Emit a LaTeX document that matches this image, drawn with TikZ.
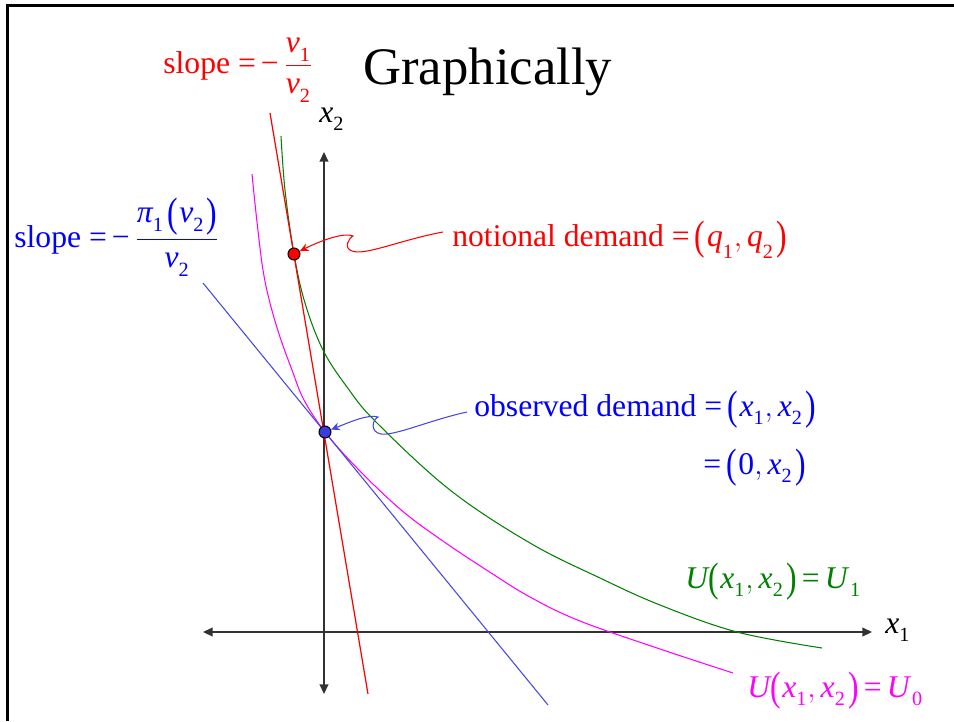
\documentclass[tikz,border=0pt]{standalone}
\usepackage{amsmath}
\usepackage{graphicx}
\usepackage{fontspec}
\setmainfont{Liberation Serif}
\usetikzlibrary{arrows.meta}
\definecolor{lineblue}{RGB}{70,70,225}
\definecolor{dotblue}{RGB}{60,60,220}
\definecolor{mygreen}{RGB}{0,128,0}
\definecolor{mymag}{RGB}{255,0,255}
\definecolor{axisgray}{RGB}{50,50,50}
\newcommand{\mysub}[1]{_{\text{\fontsize{11.5}{12}\selectfont\raisebox{-2.5pt}{#1}}}}
\newcommand{\myv}[1]{\textit{v}\mysub{#1}}
\newcommand{\myx}[1]{\textit{x}\mysub{#1}}
\newcommand{\myq}[1]{\textit{q}\mysub{#1}}
\newcommand{\lp}{\mathopen{\text{\raisebox{-0.12em}{\scalebox{1}[1.3]{(}}}}\mspace{1mu}}
\newcommand{\rp}{\mspace{1.5mu}\mathclose{\text{\raisebox{-0.12em}{\scalebox{1}[1.3]{)}}}}}
\newcommand{\eq}{\mathrel{\text{=}}}
\newcommand{\mn}{\text{−}\mspace{3mu}}
\newcommand{\lblfont}{\fontsize{18}{22}\selectfont}
\newcommand{\tightm}{\thickmuskip=3mu plus 1mu\relax\medmuskip=2mu\relax}
\begin{document}
\begin{tikzpicture}[x=0.02cm,y=-0.02cm,
  lbl/.style={inner sep=0pt, anchor=base west, font=\lblfont},
  curve/.style={line width=0.6pt},
  axisline/.style={draw=axisgray, line width=0.9pt, {Triangle[length=5.5pt,width=5pt]}-{Triangle[length=5.5pt,width=5pt]}},
  dotnode/.style={circle, draw=black, line width=0.6pt, inner sep=0pt, minimum size=6.8pt},
  conn/.style={line width=0.6pt, -{Stealth[length=5pt,width=4.5pt]}}]
\useasboundingbox (0,0) rectangle (954,721);
% frame
\draw[line width=1.5pt] (7.5,721) -- (7.5,5.5) -- (954,5.5);
% axes
\coordinate (ytop) at (324,152);
\coordinate (ybot) at (324,694);
\coordinate (xl) at (203,632);
\coordinate (xr) at (872,632);
\draw[axisline] (ybot) -- (ytop);
\draw[axisline] (xl) -- (xr);
\node[lbl] (x2lab) at (319,122) {$\myx{2}$};
\node[lbl] (x1lab) at (885,633) {$\myx{1}$};
% title
\node[inner sep=0pt, anchor=base west, font=\fontsize{30}{36}\selectfont] (title) at (363,84) {Graphically};
% curves
\draw[curve, mymag] plot[smooth, tension=0.6] coordinates {(252,174) (257,222) (263,270) (270,303) (280,337) (292,370) (304,400) (325,432) (357,468) (400,509) (440,539) (485,569) (530,597) (580,621) (660,649) (733,673)};
\draw[curve, mygreen] plot[smooth, tension=0.6] coordinates {(281,136) (285,190) (294,254) (305,303) (323,350) (347,387) (376,422) (450,490) (530,543) (600,578) (660,605) (737,632) (822,648)};
\draw[curve, red, line width=0.7pt] (270,113) -- (368,694);
\draw[curve, lineblue] (203,283) -- (548,705);
% dots
\node[dotnode, fill=red] (nd) at (294,254) {};
\node[dotnode, fill=dotblue] (od) at (325,432) {};
% labels
\node[lbl, text=red] (slopeR) at (163,73) {slope $\tightm\eq\mn\dfrac{\myv{1}}{\myv{2}}$};
\node[lbl, text=blue] (slopeB) at (14,247) {slope $\tightm\eq\mn\dfrac{\textit{π}\mysub{1}\mspace{2mu}\lp\myv{2}\rp}{\myv{2}}$};
\node[lbl, text=red] (notional) at (452,246) {notional demand $\tightm\eq\lp\myq{1},\myq{2}\rp$};
\node[lbl, text=blue] (obs1) at (474,416) {observed demand $\tightm\eq\lp\myx{1},\myx{2}\rp$};
\node[lbl, text=blue] (obs2) at (703,474) {$\tightm\eq\lp\text{0},\myx{2}\rp$};
\node[lbl, text=mygreen] (U1lab) at (685,588) {$\tightm\textit{U}\lp\myx{1},\myx{2}\rp\eq\textit{U}\mspace{1.5mu}\mysub{1}$};
\node[lbl, text=mymag] (U0lab) at (747,697) {$\tightm\textit{U}\lp\myx{1},\myx{2}\rp\eq\textit{U}\mspace{1.5mu}\mysub{0}$};
% connectors
\coordinate (ra) at (443,232);
\coordinate (ba) at (467,412);
\draw[conn, red] (ra) .. controls (400,240) and (365,256) .. (352,251) .. controls (343,248) and (349,238) .. (353,236) .. controls (345,232) and (322,240) .. (nd);
\draw[conn, lineblue] (ba) .. controls (430,420) and (395,436) .. (381,434) .. controls (370,432) and (372,420) .. (378,417) .. controls (368,414) and (350,422) .. (od);
\end{tikzpicture}
\end{document}
